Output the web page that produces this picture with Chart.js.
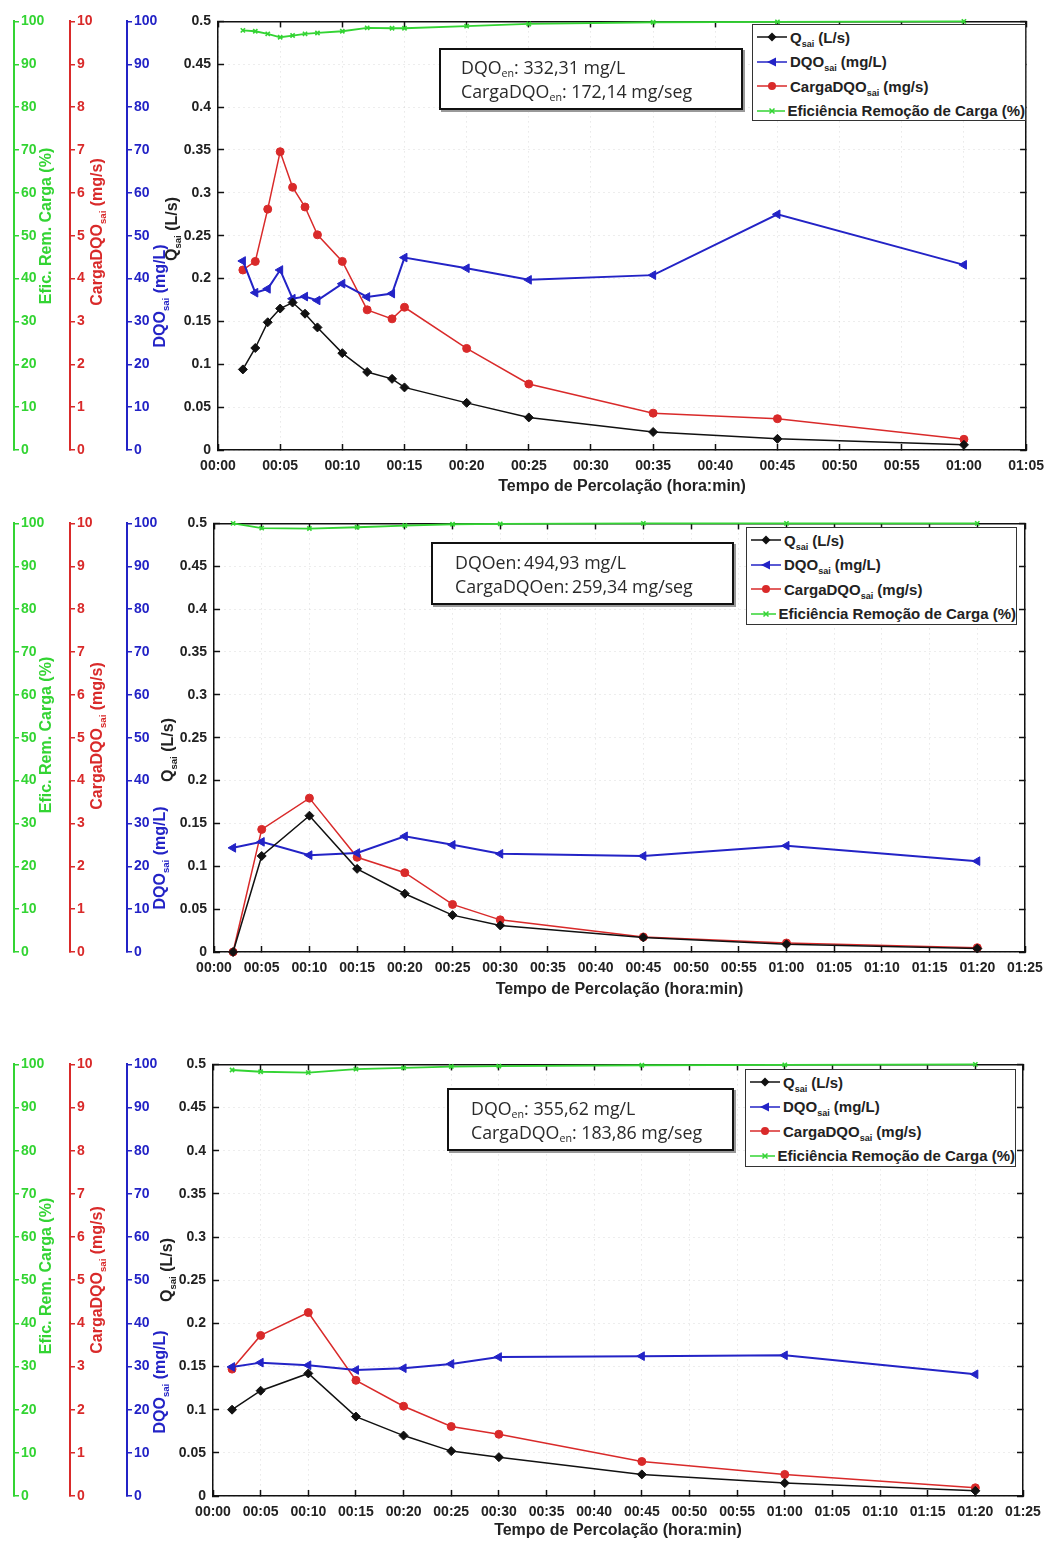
<!DOCTYPE html>
<html>
<head>
<meta charset="utf-8">
<script src="https://cdn.jsdelivr.net/npm/chart.js@4.4.0/dist/chart.umd.min.js"></script>
<style>
  body { margin: 0; background: #fff; }
  #page { position: relative; width: 1058px; height: 1543px; overflow: hidden; }
  canvas { position: absolute; left: 0; }
  .ytitle {
    position: absolute; white-space: nowrap; line-height: 1;
    font: bold 16px 'Liberation Sans', Arial, sans-serif;
    transform: translate(-50%, -50%) rotate(-90deg);
  }
  .ytitle sub, .legend sub { font-size: 0.6em; vertical-align: -0.45em; line-height: 0; }
  .legend {
    position: absolute; background: #fff; border: 1.5px solid #333; box-sizing: border-box;
  }
  .legend .row { display: flex; align-items: center; height: 24.5px; }
  .legend svg { margin-left: 3px; }
  .legend span {
    margin-left: 2px; white-space: nowrap; color: #222;
    font: bold 15px 'Liberation Sans', Arial, sans-serif;
  }
  .note {
    position: absolute; background: #fff; border: 2px solid #111; box-sizing: border-box;
    box-shadow: 2px 2px 0 #999;
    display: flex; flex-direction: column; justify-content: center;
    font: 17.8px 'Open Sans', sans-serif; line-height: 24px; color: #2a2a2a; white-space: nowrap;
  }
  .note sub { font-size: 0.6em; vertical-align: -0.3em; line-height: 0; }
</style>
</head>
<body>
<div id="page"></div>
<script>
// tick labels
const timeTickLabels = ['00:00', '00:05', '00:10', '00:15', '00:20', '00:25', '00:30', '00:35', '00:40',
  '00:45', '00:50', '00:55', '01:00', '01:05', '01:10', '01:15', '01:20', '01:25'];
const qTickLabels = ['0', '0.05', '0.1', '0.15', '0.2', '0.25', '0.3', '0.35', '0.4', '0.45', '0.5'];

// panel 1 (minutes)
const p1Minutes = [2, 3, 4, 5, 6, 7, 8, 10, 12, 14, 15, 20, 25, 35, 45, 60];
const p1Q = [0.094, 0.119, 0.149, 0.165, 0.172, 0.159, 0.143, 0.113, 0.091, 0.083, 0.073, 0.055, 0.038, 0.021, 0.013, 0.006];
const p1DQO = [44.1, 36.7, 37.6, 42.0, 35.3, 35.8, 34.9, 38.8, 35.7, 36.5, 44.9, 42.4, 39.7, 40.8, 55.0, 43.2];
const p1Carga = [4.20, 4.40, 5.62, 6.96, 6.13, 5.67, 5.02, 4.40, 3.27, 3.06, 3.33, 2.37, 1.54, 0.86, 0.73, 0.25];
const p1Efic = [97.9, 97.7, 97.1, 96.3, 96.7, 97.1, 97.3, 97.7, 98.5, 98.4, 98.4, 98.9, 99.4, 99.8, 99.9, 100];

// panel 2
const p2Minutes = [2, 5, 10, 15, 20, 25, 30, 45, 60, 80];
const p2Q = [0.0, 0.112, 0.159, 0.097, 0.068, 0.043, 0.031, 0.017, 0.009, 0.004];
const p2DQO = [24.3, 25.7, 22.6, 23.1, 27.0, 25.0, 22.9, 22.4, 24.8, 21.2];
const p2Carga = [0.0, 2.86, 3.59, 2.21, 1.85, 1.11, 0.75, 0.35, 0.21, 0.10];
const p2Efic = [100, 98.9, 98.8, 99.1, 99.5, 99.8, 99.9, 100, 100, 100];

// panel 3
const p3Minutes = [2, 5, 10, 15, 20, 25, 30, 45, 60, 80];
const p3Q = [0.100, 0.122, 0.142, 0.092, 0.070, 0.052, 0.045, 0.025, 0.015, 0.006];
const p3DQO = [29.9, 30.9, 30.3, 29.2, 29.6, 30.6, 32.2, 32.4, 32.6, 28.2];
const p3Carga = [2.94, 3.72, 4.25, 2.68, 2.08, 1.61, 1.43, 0.80, 0.50, 0.19];
const p3Efic = [98.7, 98.3, 98.1, 98.9, 99.2, 99.5, 99.6, 99.8, 99.9, 100];

const p1Note = ['DQO<sub>en</sub>: 332,31 mg/L', 'CargaDQO<sub>en</sub>: 172,14 mg/seg'];
const p2Note = ['DQOen:&thinsp;494,93 mg/L', 'CargaDQOen:&thinsp;259,34 mg/seg'];
const p3Note = ['DQO<sub>en</sub>: 355,62 mg/L', 'CargaDQO<sub>en</sub>: 183,86 mg/seg'];

const GREEN = '#33d433';
const RED = '#d92a2a';
const BLUE = '#2323c6';
const BLACK = '#111111';
const FAMILY = "'Liberation Sans', Arial, sans-serif";
const GRID = 'rgba(0,0,0,0.14)';

const series = [
  {key: 'q', label: 'Q<sub>sai</sub> (L/s)', text: 'Qsai (L/s)', color: BLACK, axis: 'yQ',
    pointStyle: 'rectRot', rotation: 0, radius: 4.5, width: 1.5, marker: 'diamond'},
  {key: 'dqo', label: 'DQO<sub>sai</sub> (mg/L)', text: 'DQOsai (mg/L)', color: BLUE, axis: 'yB',
    pointStyle: 'triangle', rotation: -90, radius: 5, width: 2, marker: 'tri'},
  {key: 'carga', label: 'CargaDQO<sub>sai</sub> (mg/s)', text: 'CargaDQOsai (mg/s)', color: RED, axis: 'yR',
    pointStyle: 'circle', rotation: 0, radius: 4, width: 1.5, marker: 'circle'},
  {key: 'efic', label: 'Eficiência Remoção de Carga (%)', text: 'Eficiência Remoção de Carga (%)', color: GREEN, axis: 'yG',
    pointStyle: 'crossRot', rotation: 0, radius: 3, width: 1.8, marker: 'cross'}
];

const panels = [
  {top: 0, height: 500, plotTop: 14, plotBottom: 450, plotLeft: 218, plotRight: 1035, xMax: 65, titlePad: 4,
    minutes: p1Minutes, q: p1Q, dqo: p1DQO, carga: p1Carga, efic: p1Efic, note: p1Note,
    noteBox: [439, 48, 304, 62, 20], legendBox: [752, 24, 274, 97],
    titles: {g: 226, r: 232, b: 296, q: 229, qx: 172}},
  {top: 502, height: 500, plotTop: 518, plotBottom: 952, plotLeft: 214, plotRight: 1025, xMax: 85, titlePad: 3,
    minutes: p2Minutes, q: p2Q, dqo: p2DQO, carga: p2Carga, efic: p2Efic, note: p2Note,
    noteBox: [431, 542, 303, 63, 22], legendBox: [746, 527, 271, 98],
    titles: {g: 735, r: 736, b: 858, q: 750, qx: 168}},
  {top: 1043, height: 500, plotTop: 1061, plotBottom: 1496, plotLeft: 213, plotRight: 1023, xMax: 85, titlePad: 3,
    minutes: p3Minutes, q: p3Q, dqo: p3DQO, carga: p3Carga, efic: p3Efic, note: p3Note,
    noteBox: [447, 1088, 287, 63, 22], legendBox: [745, 1069, 271, 98],
    titles: {g: 1276, r: 1280, b: 1382, q: 1270, qx: 167}}
];

const page = document.getElementById('page');

function fixWidth(w) {
  return (scale) => { scale.width = w; };
}

function sideAxis(color, max, step, weight, width) {
  return {
    type: 'linear', position: 'left', weight: weight, min: 0, max: max,
    ticks: {stepSize: step, mirror: true, padding: 7, color: color, font: {family: FAMILY, weight: 'bold', size: 14}},
    grid: {drawOnChartArea: false, color: color, tickLength: -5, lineWidth: 1.5},
    border: {color: color, width: 2},
    afterFit: fixWidth(width)
  };
}

function markerSvg(s) {
  let m = '';
  if (s.marker === 'diamond') m = `<polygon points="16,2.5 20.5,7 16,11.5 11.5,7" fill="${s.color}"/>`;
  if (s.marker === 'tri') m = `<polygon points="11,7 20,2.5 20,11.5" fill="${s.color}"/>`;
  if (s.marker === 'circle') m = `<circle cx="16" cy="7" r="4" fill="${s.color}"/>`;
  if (s.marker === 'cross') m = `<path d="M13.5,4.5 L18.5,9.5 M18.5,4.5 L13.5,9.5" stroke="${s.color}" stroke-width="1.5"/>`;
  return `<svg width="32" height="14"><line x1="1" y1="7" x2="31" y2="7" stroke="${s.color}" stroke-width="1.5"/>${m}</svg>`;
}

function addDiv(cls, html, css) {
  const d = document.createElement('div');
  d.className = cls;
  d.innerHTML = html;
  Object.assign(d.style, css);
  page.appendChild(d);
  return d;
}

function makePanel(p) {
  const canvas = document.createElement('canvas');
  canvas.width = 1058;
  canvas.height = p.height;
  canvas.style.top = p.top + 'px';
  page.appendChild(canvas);

  const datasets = series.map((s) => ({
    label: s.text,
    data: p.minutes.map((m, i) => ({x: m, y: p[s.key][i]})),
    yAxisID: s.axis,
    borderColor: s.color,
    backgroundColor: s.color,
    borderWidth: s.width,
    pointStyle: s.pointStyle,
    pointRotation: s.rotation,
    pointRadius: s.radius,
    pointBorderWidth: s.marker === 'cross' ? 1.6 : 1,
    tension: 0,
    clip: false
  }));

  new Chart(canvas, {
    type: 'line',
    data: {datasets: datasets},
    options: {
      responsive: false,
      animation: false,
      events: [],
      layout: {padding: {left: 0, top: p.plotTop - p.top, right: 1058 - p.plotRight, bottom: 0}},
      plugins: {legend: {display: false}, tooltip: {enabled: false}},
      scales: {
        x: {
          type: 'linear', position: 'bottom', min: 0, max: p.xMax,
          ticks: {stepSize: 5, autoSkip: false, maxRotation: 0, padding: 14, color: '#222',
            font: {family: FAMILY, weight: 'bold', size: 14},
            callback: (v) => timeTickLabels[Math.round(v / 5)]},
          grid: {color: GRID, tickColor: BLACK, tickLength: -6, tickWidth: 1.5},
          border: {color: BLACK, width: 1.5, dash: [1, 4]},
          title: {display: true, text: 'Tempo de Percolação (hora:min)', color: '#222',
            font: {family: FAMILY, weight: 'bold', size: 16}, padding: {top: 0, bottom: p.titlePad}},
          afterFit: (s) => { s.height = p.top + p.height - p.plotBottom; }
        },
        xTop: {
          type: 'linear', position: 'top', min: 0, max: p.xMax,
          ticks: {display: false, stepSize: 5},
          grid: {drawOnChartArea: false, tickColor: BLACK, tickLength: -6, tickWidth: 1.5},
          border: {color: BLACK, width: 1.5},
          afterFit: (s) => { s.height = 0; }
        },
        yQ: {
          type: 'linear', position: 'left', weight: 0, min: 0, max: 0.5,
          ticks: {stepSize: 0.05, padding: 13, color: '#222', font: {family: FAMILY, weight: 'bold', size: 14},
            callback: (v) => qTickLabels[Math.round(v / 0.05)]},
          grid: {color: GRID, tickColor: BLACK, tickLength: -6, tickWidth: 1.5},
          border: {color: BLACK, width: 1.5, dash: [1, 4]},
          afterFit: fixWidth(p.plotLeft - 127)
        },
        yB: sideAxis(BLUE, 100, 10, 1, 57),
        yR: sideAxis(RED, 10, 1, 2, 56),
        yG: sideAxis(GREEN, 100, 10, 3, 14),
        yRight: {
          type: 'linear', position: 'right', min: 0, max: 0.5,
          ticks: {display: false, stepSize: 0.05},
          grid: {drawOnChartArea: false, tickColor: BLACK, tickLength: -6, tickWidth: 1.5},
          border: {color: BLACK, width: 1.5},
          afterFit: fixWidth(0)
        }
      }
    }
  });

  // axis titles
  addDiv('ytitle', 'Efic. Rem. Carga (%)', {color: GREEN, left: '46px', top: p.titles.g + 'px'});
  addDiv('ytitle', 'CargaDQO<sub>sai</sub> (mg/s)', {color: RED, left: '97px', top: p.titles.r + 'px'});
  addDiv('ytitle', 'DQO<sub>sai</sub> (mg/L)', {color: BLUE, left: '160px', top: p.titles.b + 'px'});
  addDiv('ytitle', 'Q<sub>sai</sub> (L/s)', {color: '#222', left: p.titles.qx + 'px', top: p.titles.q + 'px'});

  // legend
  const lb = p.legendBox;
  const rows = series.map((s) => `<div class="row">${markerSvg(s)}<span>${s.label}</span></div>`).join('');
  addDiv('legend', rows, {left: lb[0] + 'px', top: lb[1] + 'px', width: lb[2] + 'px', height: lb[3] + 'px'});

  // inlet concentration box
  const nb = p.noteBox;
  addDiv('note', p.note.map((t) => `<div>${t}</div>`).join(''),
    {left: nb[0] + 'px', top: nb[1] + 'px', width: nb[2] + 'px', height: nb[3] + 'px', paddingLeft: nb[4] + 'px'});
}

panels.forEach(makePanel);
</script>
</body>
</html>
